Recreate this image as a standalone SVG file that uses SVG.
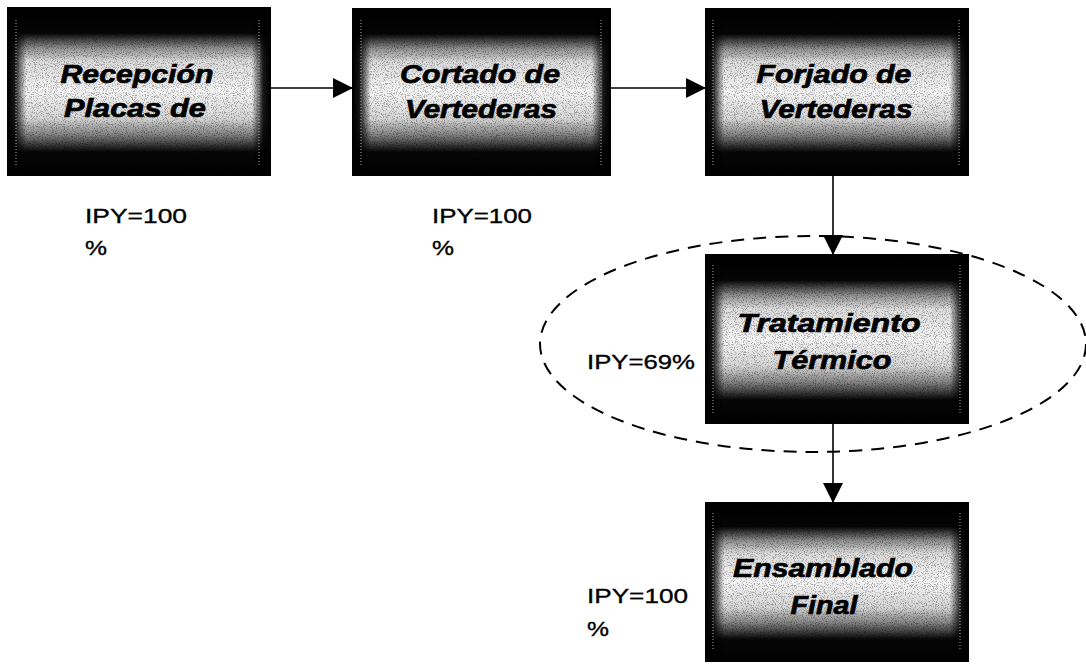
<svg xmlns="http://www.w3.org/2000/svg" width="1086" height="667" viewBox="0 0 1086 667">
<style>
.box{fill:url(#vg);stroke:#000;stroke-width:2}
.side{fill:url(#hg)}
.grain{fill:#000;opacity:0.3;filter:url(#grain)}
.edge{stroke:#aaa;stroke-width:1;stroke-dasharray:1 2;fill:none}
.nt{font-family:"Liberation Sans",Arial,sans-serif;font-weight:bold;font-style:italic;font-size:26px;fill:#000;stroke:#000;stroke-width:0.7;text-anchor:middle}
.lb{font-family:"Liberation Sans",Arial,sans-serif;font-size:21px;fill:#000;stroke:#000;stroke-width:0.35}
.cn{stroke:#000;stroke-width:1.6;fill:none;marker-end:url(#ah)}
.ring{fill:none;stroke:#000;stroke-width:2;stroke-dasharray:13 9}
</style>
<defs>
<linearGradient id="vg" x1="0" y1="0" x2="0" y2="1">
<stop offset="0" stop-color="#000"/>
<stop offset="0.15" stop-color="#050505"/>
<stop offset="0.24" stop-color="#8f8f8f"/>
<stop offset="0.32" stop-color="#dcdcdc"/>
<stop offset="0.5" stop-color="#f6f6f6"/>
<stop offset="0.66" stop-color="#d6d6d6"/>
<stop offset="0.76" stop-color="#808080"/>
<stop offset="0.86" stop-color="#080808"/>
<stop offset="1" stop-color="#000"/>
</linearGradient>
<linearGradient id="hg" x1="0" y1="0" x2="1" y2="0">
<stop offset="0" stop-color="#000" stop-opacity="1"/>
<stop offset="0.025" stop-color="#000" stop-opacity="0.9"/>
<stop offset="0.07" stop-color="#000" stop-opacity="0"/>
<stop offset="0.93" stop-color="#000" stop-opacity="0"/>
<stop offset="0.975" stop-color="#000" stop-opacity="0.9"/>
<stop offset="1" stop-color="#000" stop-opacity="1"/>
</linearGradient>
<filter id="grain" x="0" y="0" width="1" height="1">
<feTurbulence type="fractalNoise" baseFrequency="0.9" numOctaves="2" seed="7" result="n"/>
<feColorMatrix in="n" type="matrix" values="0 0 0 0 0  0 0 0 0 0  0 0 0 0 0  5 0 0 0 -2.5" result="a"/>
<feComposite in="a" in2="SourceGraphic" operator="in"/>
</filter>
<marker id="ah" viewBox="0 0 20 20" refX="20" refY="10" markerWidth="20" markerHeight="20" markerUnits="userSpaceOnUse" orient="auto">
<path d="M0,0 L20,10 L0,20 Z" fill="#000"/>
</marker>
</defs>

<g id="connectors">
<line class="cn" x1="270" y1="88" x2="353" y2="88"/>
<line class="cn" x1="610" y1="88" x2="706" y2="88"/>
<line class="cn" x1="833" y1="175" x2="833" y2="255"/>
<line class="cn" x1="833" y1="423" x2="833" y2="503"/>
</g>

<g id="node-recepcion">
<rect class="box" x="8" y="8" width="262" height="167"/>
<rect class="side" x="8" y="8" width="262" height="167"/>
<rect class="grain" x="8" y="8" width="262" height="167"/>
<line class="edge" x1="16" y1="20" x2="16" y2="165"/>
<line class="edge" x1="259" y1="20" x2="259" y2="165"/>
<text class="nt" x="137" y="83" textLength="153" lengthAdjust="spacingAndGlyphs">Recepción</text>
<text class="nt" x="135" y="117" textLength="142" lengthAdjust="spacingAndGlyphs">Placas de</text>
</g>

<g id="node-cortado">
<rect class="box" x="353" y="9" width="257" height="166"/>
<rect class="side" x="353" y="9" width="257" height="166"/>
<rect class="grain" x="353" y="9" width="257" height="166"/>
<line class="edge" x1="361" y1="20" x2="361" y2="165"/>
<line class="edge" x1="601" y1="20" x2="601" y2="165"/>
<text class="nt" x="480" y="83" textLength="160" lengthAdjust="spacingAndGlyphs">Cortado de</text>
<text class="nt" x="481" y="118" textLength="152" lengthAdjust="spacingAndGlyphs">Vertederas</text>
</g>

<g id="node-forjado">
<rect class="box" x="706" y="9" width="262" height="166"/>
<rect class="side" x="706" y="9" width="262" height="166"/>
<rect class="grain" x="706" y="9" width="262" height="166"/>
<line class="edge" x1="713" y1="20" x2="713" y2="165"/>
<line class="edge" x1="959" y1="20" x2="959" y2="165"/>
<text class="nt" x="834" y="83" textLength="155" lengthAdjust="spacingAndGlyphs">Forjado de</text>
<text class="nt" x="836" y="118" textLength="153" lengthAdjust="spacingAndGlyphs">Vertederas</text>
</g>

<g id="node-tratamiento">
<rect class="box" x="706" y="255" width="262" height="168"/>
<rect class="side" x="706" y="255" width="262" height="168"/>
<rect class="grain" x="706" y="255" width="262" height="168"/>
<line class="edge" x1="713" y1="265" x2="713" y2="413"/>
<line class="edge" x1="960" y1="265" x2="960" y2="413"/>
<text class="nt" x="829" y="332" textLength="183" lengthAdjust="spacingAndGlyphs">Tratamiento</text>
<text class="nt" x="832" y="369" textLength="119" lengthAdjust="spacingAndGlyphs">Térmico</text>
</g>

<g id="node-ensamblado">
<rect class="box" x="706" y="503" width="262" height="158"/>
<rect class="side" x="706" y="503" width="262" height="158"/>
<rect class="grain" x="706" y="503" width="262" height="158"/>
<line class="edge" x1="713" y1="513" x2="713" y2="651"/>
<line class="edge" x1="960" y1="513" x2="960" y2="651"/>
<text class="nt" x="823" y="577" textLength="180" lengthAdjust="spacingAndGlyphs">Ensamblado</text>
<text class="nt" x="824" y="614" textLength="67" lengthAdjust="spacingAndGlyphs">Final</text>
</g>

<g id="highlight">
<ellipse class="ring" cx="813" cy="344" rx="273" ry="108"/>
</g>

<g id="labels">
<text class="lb" x="85" y="223" textLength="102" lengthAdjust="spacingAndGlyphs">IPY=100</text>
<text class="lb" x="85" y="255" textLength="22" lengthAdjust="spacingAndGlyphs">%</text>
<text class="lb" x="432" y="223" textLength="100" lengthAdjust="spacingAndGlyphs">IPY=100</text>
<text class="lb" x="432" y="255" textLength="22" lengthAdjust="spacingAndGlyphs">%</text>
<text class="lb" x="587" y="369" textLength="108" lengthAdjust="spacingAndGlyphs">IPY=69%</text>
<text class="lb" x="587" y="603" textLength="101" lengthAdjust="spacingAndGlyphs">IPY=100</text>
<text class="lb" x="587" y="636" textLength="22" lengthAdjust="spacingAndGlyphs">%</text>
</g>
</svg>
